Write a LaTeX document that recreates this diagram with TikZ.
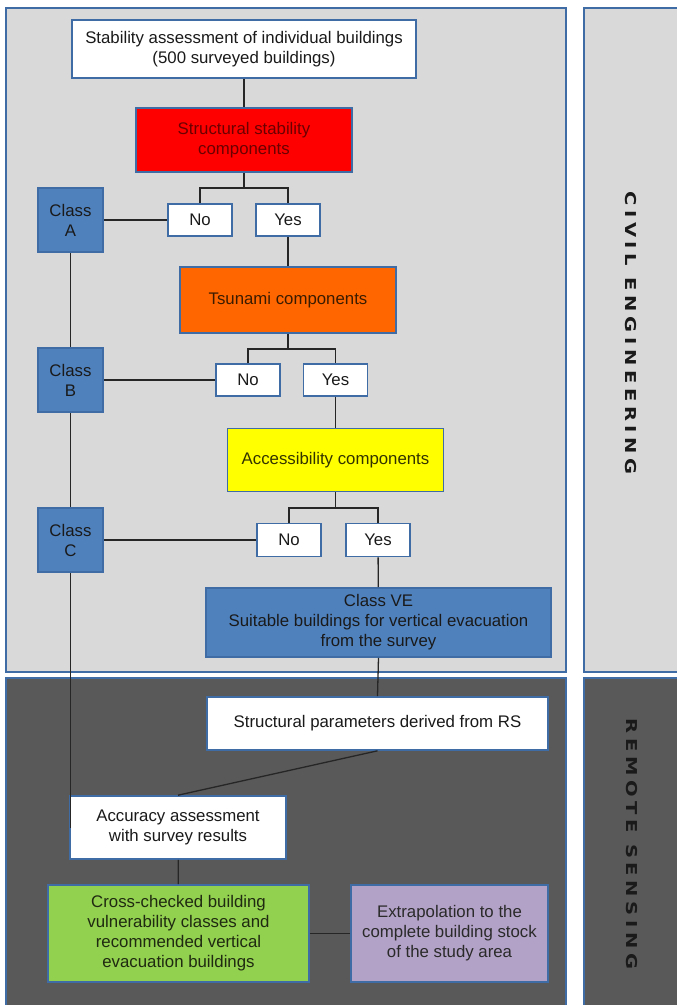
\documentclass[tikz,border=0pt]{standalone}
\usepackage{fontspec}
\setmainfont{Liberation Sans}
\newfontfamily\sidefont[LetterSpace=31, FakeStretch=1.3]{DejaVu Sans Bold}
\usetikzlibrary{positioning}
\definecolor{panellight}{HTML}{D9D9D9}
\definecolor{paneldark}{HTML}{595959}
\definecolor{bordercol}{HTML}{3F6CA5}
\definecolor{classfill}{HTML}{4F81BD}
\definecolor{redfill}{HTML}{FF0000}
\definecolor{orangefill}{HTML}{FF6600}
\definecolor{yellowfill}{HTML}{FFFF00}
\definecolor{greenfill}{HTML}{92D050}
\definecolor{purplefill}{HTML}{B3A2C7}
\definecolor{linecol}{HTML}{262626}
\definecolor{txt}{HTML}{1A1A1A}
\definecolor{redtxt}{HTML}{6B0000}
\definecolor{orangetxt}{HTML}{3B1C00}
\definecolor{yellowtxt}{HTML}{333300}
\definecolor{greentxt}{HTML}{1F2A10}
\definecolor{purpletxt}{HTML}{2A2A2A}
\tikzset{
  panel/.style={draw=bordercol, line width=2pt},
  box/.style={draw=bordercol, line width=1.6pt, inner sep=0pt, align=center,
    text=txt, font=\fontsize{16.8}{20}\selectfont},
  whitebox/.style={box, fill=white},
  classbox/.style={box, fill=classfill, minimum width=65pt, minimum height=64pt},
  answer/.style={whitebox, minimum width=64pt, minimum height=32pt},
  conn/.style={draw=linecol, line width=1.3pt},
  sidelabel/.style={rotate=-90, text=txt, font=\fontsize{15}{18}\sidefont}
}
\begin{document}
\begin{tikzpicture}[x=1pt,y=-1pt]
\useasboundingbox (0,0) rectangle (677,1005);
\clip (0,0) rectangle (677,1005);
% panels
\fill[white] (0,0) rectangle (677,1005);
\draw[panel, fill=panellight] (6,8) rectangle (566,672);
\draw[panel, fill=panellight] (584,8) rectangle (690,672);
\draw[panel, fill=paneldark] (6,678) rectangle (566,1020);
\draw[panel, fill=paneldark] (584,678) rectangle (690,1020);
\node[sidelabel] (civil) at (631,333) {CIVIL ENGINEERING};
\node[sidelabel] (remote) at (632,844) {REMOTE SENSING};
% nodes
\node[whitebox, minimum width=344pt, minimum height=58pt] (top) at (244,49)
  {Stability assessment of individual buildings\\(500 surveyed buildings)};
\node[box, fill=redfill, text=redtxt, minimum width=216pt, minimum height=64pt] (red) at (244,140)
  {Structural stability\\components};
\node[answer] (noA) at (200,220) {No};
\node[answer] (yesA) at (288,220) {Yes};
\node[classbox] (classA) at (70.5,220) {Class\\A};
\node[box, fill=orangefill, text=orangetxt, minimum width=216pt, minimum height=66pt] (tsu) at (288,300)
  {Tsunami components};
\node[answer] (noB) at (248,380) {No};
\node[answer] (yesB) at (335.5,380) {Yes};
\node[classbox] (classB) at (70.5,380) {Class\\B};
\node[box, fill=yellowfill, text=yellowtxt, minimum width=216pt, minimum height=63pt] (acc) at (335.5,460)
  {Accessibility components};
\node[answer, minimum height=33pt] (noC) at (289,540) {No};
\node[answer, minimum height=33pt] (yesC) at (378,540) {Yes};
\node[classbox] (classC) at (70.5,540) {Class\\C};
\node[box, fill=classfill, minimum width=345pt, minimum height=69pt] (ve) at (378.5,622.5)
  {Class VE\\Suitable buildings for vertical evacuation\\from the survey};
\node[whitebox, minimum width=341pt, minimum height=53pt] (rs) at (377.5,723.5)
  {Structural parameters derived from RS};
\node[whitebox, minimum width=216pt, minimum height=63pt] (accu) at (178,827.5)
  {Accuracy assessment\\with survey results};
\node[box, fill=greenfill, text=greentxt, minimum width=261pt, minimum height=97pt] (green) at (178.5,933.5)
  {Cross-checked building\\vulnerability classes and\\recommended vertical\\evacuation buildings};
\node[box, fill=purplefill, text=purpletxt, minimum width=197pt, minimum height=97pt] (purple) at (449.5,933.5)
  {Extrapolation to the\\complete building stock\\of the study area};
% junctions
\coordinate (jA) at (244,188);
\coordinate (jB) at (288,349);
\coordinate (jC) at (335.5,508);
% connectors
\draw[conn] (top) -- (red);
\draw[conn] (red.south) -- (jA);
\draw[conn] (noA.north) |- (jA) -| (yesA.north);
\draw[conn] (classA) -- (noA);
\draw[conn] (yesA) -- (tsu);
\draw[conn] (tsu.south) -- (jB);
\draw[conn] (noB.north) |- (jB) -| (yesB.north);
\draw[conn] (classB) -- (noB);
\draw[conn] (yesB) -- (acc);
\draw[conn] (acc.south) -- (jC);
\draw[conn] (noC.north) |- (jC) -| (yesC.north);
\draw[conn] (classC) -- (noC);
\draw[conn] (yesC) -- (ve);
\draw[conn] (classA) -- (classB);
\draw[conn] (classB) -- (classC);
\draw[conn] (classC.south) -- (classC.south |- accu.west);
\draw[conn] (ve.south) -- (rs.north);
\draw[conn] (rs.south) -- (accu.north);
\draw[conn] (accu) -- (green);
\draw[conn] (green) -- (purple);
\end{tikzpicture}
\end{document}
